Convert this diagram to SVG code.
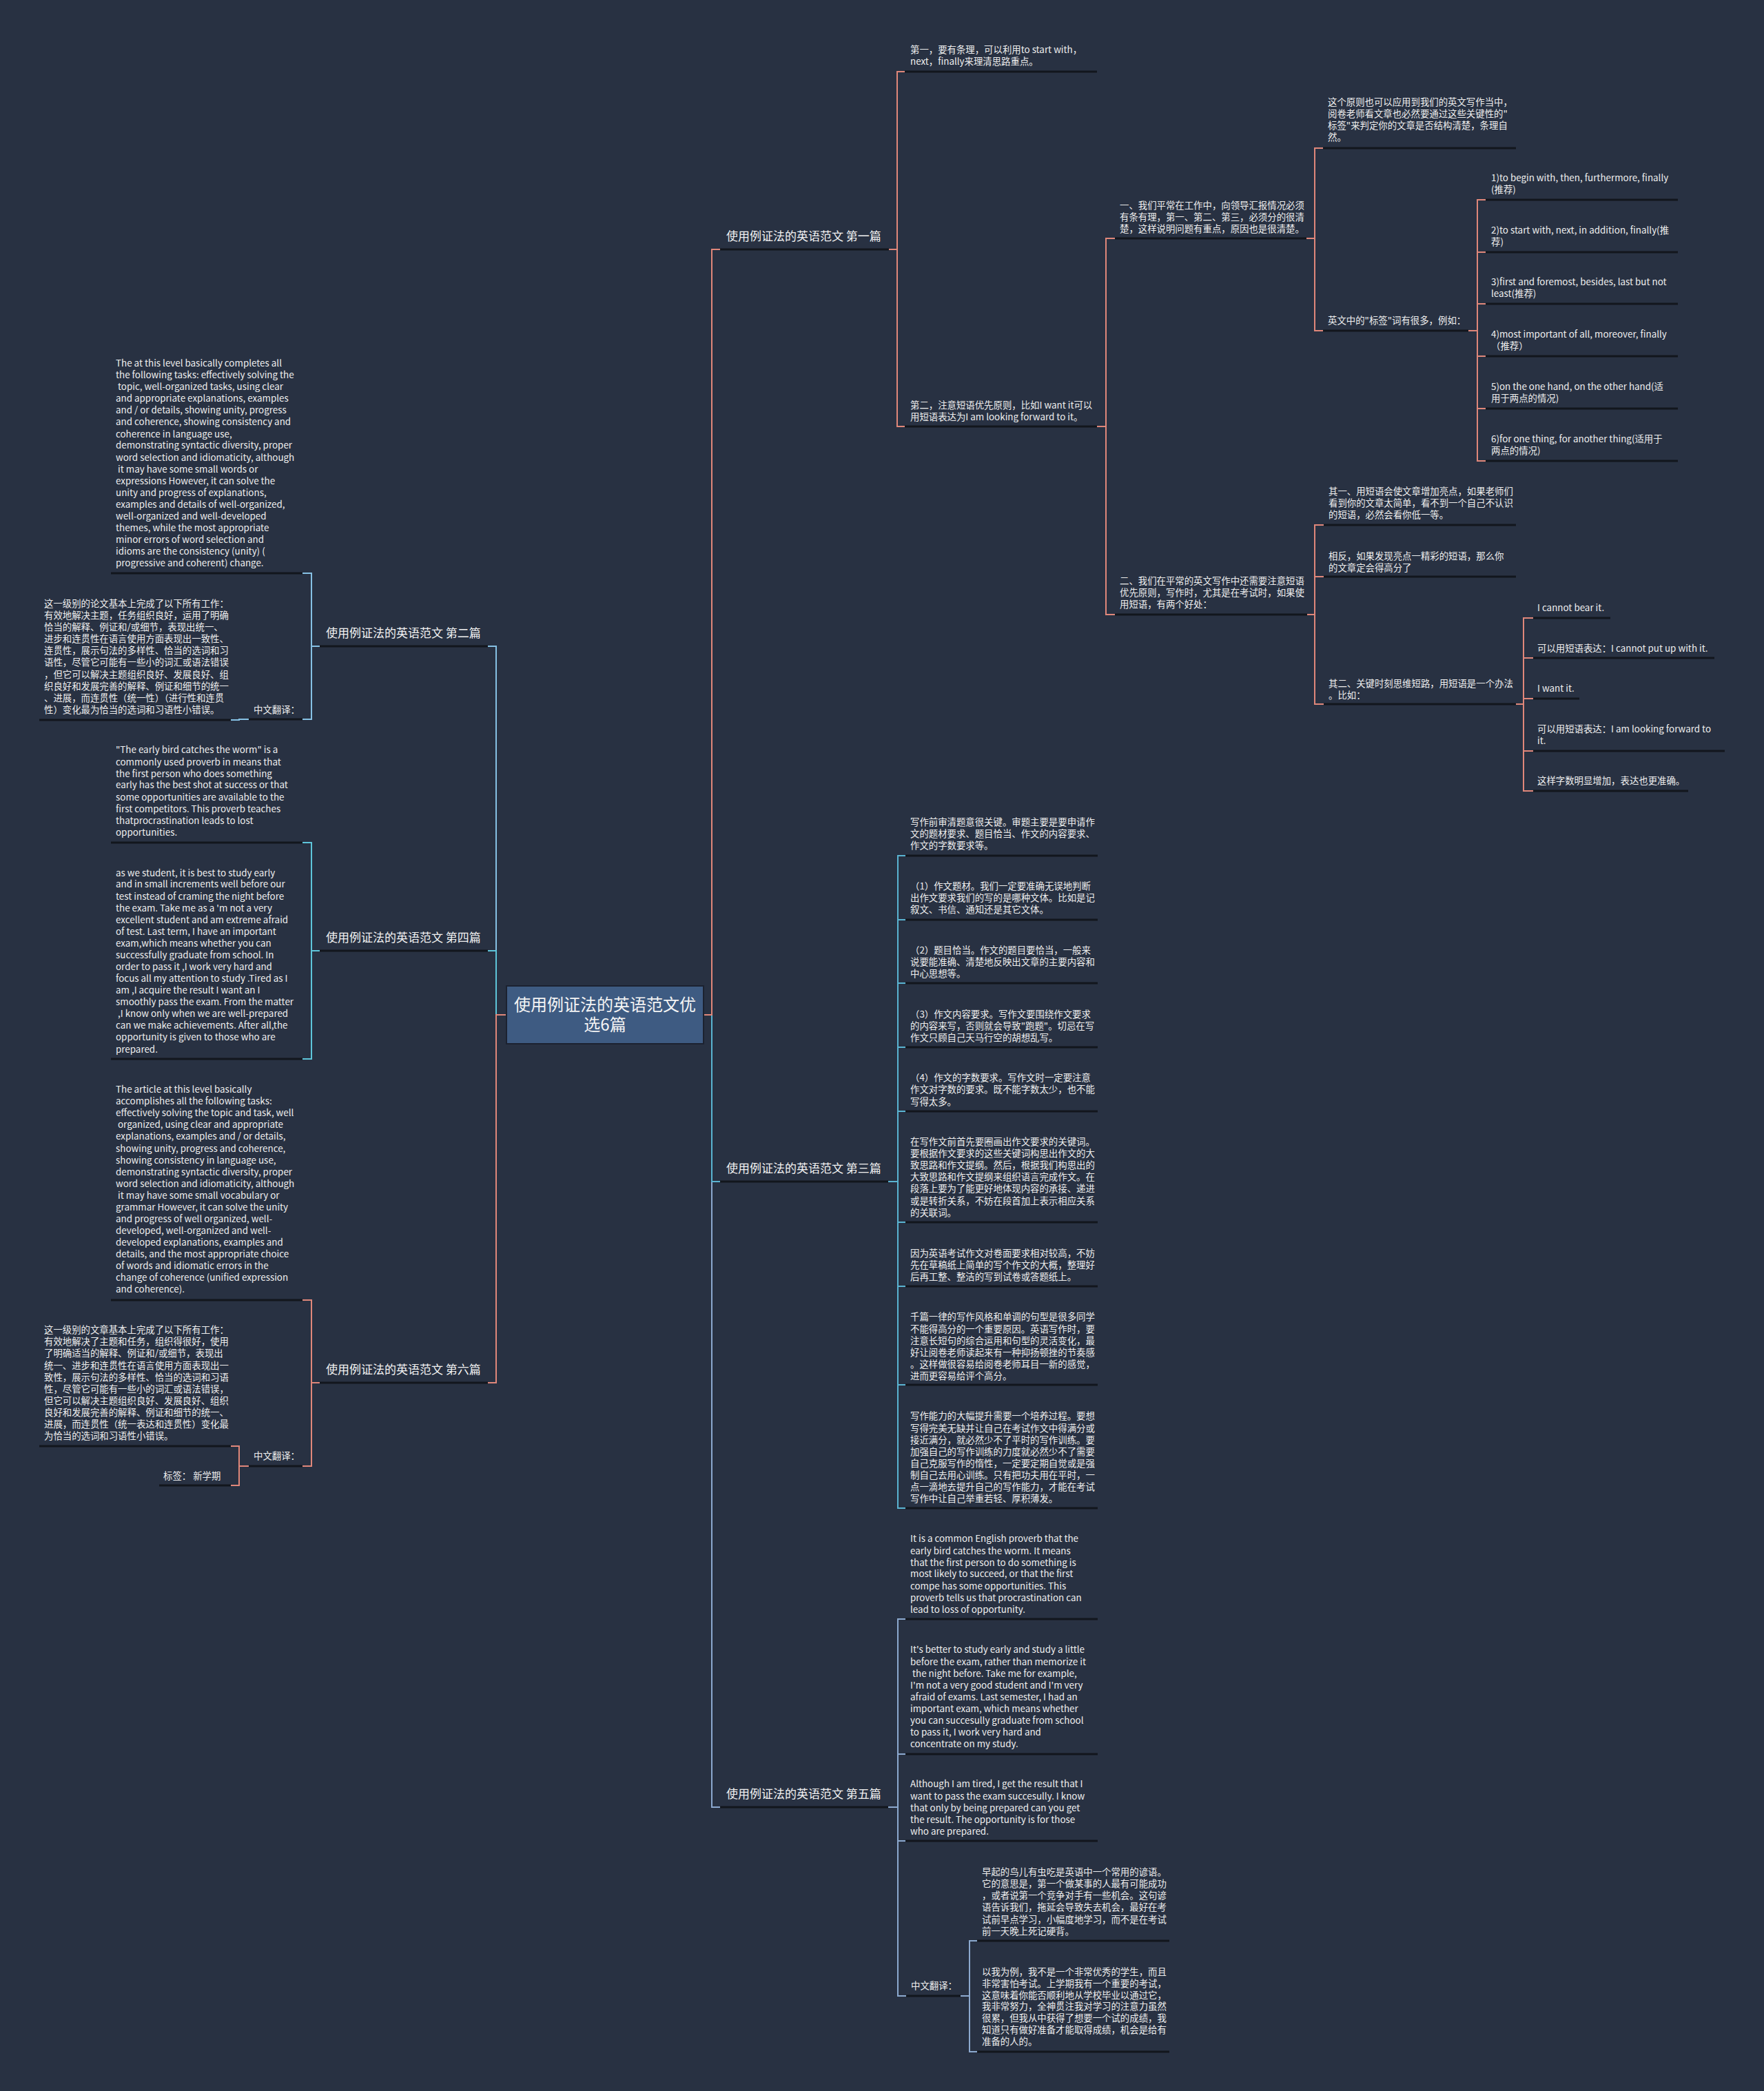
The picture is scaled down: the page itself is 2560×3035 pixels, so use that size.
<svg xmlns="http://www.w3.org/2000/svg" width="2560" height="3035" viewBox="0 0 2560 3035">
<style>
.t{font-family:"Noto Sans CJK SC","Noto Sans",sans-serif;font-size:13.4px;fill:#eeeeee}
.h{font-family:"Noto Sans CJK SC","Noto Sans",sans-serif;font-size:17px;fill:#f2f2f2}
.ctr{font-family:"Noto Sans CJK SC","Noto Sans",sans-serif;font-size:24px;fill:#f4f4f4;text-anchor:middle}
.ul{stroke:#12161d;stroke-width:3;fill:none}
.cn{fill:none;stroke-width:2}
.sa{stroke:#e0877a}
.te{stroke:#5ab4d2}
.gb{stroke:#8ca9cf}
.lb{stroke:#86c1e4}
.cy{stroke:#5ec5da}
</style>
<rect width="2560" height="3035" fill="#283142"/>

<g id="connectors">
  <path class="cn gb" d="M1021,1473 H1033 V2623 H1045"/>
  <path class="cn te" d="M1021,1473 H1033 V1715 H1045"/>
  <path class="cn sa" d="M1021,1473 H1033 V362 H1045"/>
  <path class="cn lb" d="M735,1473 H720 V938 H708"/>
  <path class="cn cy" d="M735,1473 H720 V1380 H708"/>
  <path class="cn sa" d="M735,1473 H720 V2007 H708"/>

  <path class="cn sa" d="M1290,362 H1302 V104 H1313 M1302,362 V619 H1313"/>
  <path class="cn sa" d="M1592,619 H1605 V346 H1618 M1605,619 V892 H1618"/>
  <path class="cn sa" d="M1896,346 H1908 V215 H1920 M1908,346 V480 H1920"/>
  <path class="cn sa" d="M2131,480 H2144 V290 H2156 M2144,480 V669 H2156 M2144,366 H2156 M2144,441 H2156 M2144,517 H2156 M2144,593 H2156"/>
  <path class="cn sa" d="M1897,892 H1908 V762 H1921 M1908,892 V1022 H1921 M1908,837 H1921"/>
  <path class="cn sa" d="M2200,1022 H2211 V897 H2225 M2211,1022 V1148 H2225 M2211,955 H2225 M2211,1014 H2225 M2211,1090 H2225"/>

  <path class="cn te" d="M1289,1715 H1303 V1242 H1314 M1303,1715 V2189 H1314 M1303,1335 H1314 M1303,1427 H1314 M1303,1520 H1314 M1303,1613 H1314 M1303,1774 H1314 M1303,1867 H1314 M1303,2010 H1314"/>

  <path class="cn gb" d="M1289,2623 H1303 V2350 H1314 M1303,2623 V2897 H1315 M1303,2546 H1314 M1303,2672 H1314"/>
  <path class="cn gb" d="M1394,2897 H1407 V2817 H1418 M1407,2897 V2978 H1418"/>

  <path class="cn lb" d="M464,938 H452 V832 H439 M452,938 V1044 H439"/>
  <path class="cn lb" d="M361,1044 H347 V1045 H335"/>
  <path class="cn cy" d="M464,1380 H452 V1223 H439 M452,1380 V1537 H439"/>
  <path class="cn sa" d="M464,2007 H452 V1887 H439 M452,2007 V2128 H439"/>
  <path class="cn sa" d="M361,2128 H347 V2099 H335 M347,2128 V2156 H335"/>
</g>

<g id="center">
  <rect x="735" y="1431" width="286" height="84" fill="#3e5b82" stroke="#1c2230" stroke-width="2"/>
  <text class="ctr"><tspan x="878" y="1467">使用例证法的英语范文优</tspan><tspan x="878" y="1496">选6篇</tspan></text>
</g>

<!-- Right: 第一篇 -->
<g id="b1">
  <text class="h" x="1054" y="349">使用例证法的英语范文 第一篇</text>
  <line class="ul" x1="1045" y1="362" x2="1290" y2="362"/>
</g>
<g id="b1-n1">
  <text class="t"><tspan x="1321" y="77">第一，要有条理，可以利用to start with，</tspan><tspan x="1321" y="94">next，finally来理清思路重点。</tspan></text>
  <line class="ul" x1="1313" y1="104" x2="1592" y2="104"/>
</g>
<g id="b1-n2">
  <text class="t"><tspan x="1321" y="593">第二，注意短语优先原则，比如I want it可以</tspan><tspan x="1321" y="610">用短语表达为I am looking forward to it。</tspan></text>
  <line class="ul" x1="1313" y1="619" x2="1592" y2="619"/>
</g>
<g id="b1-a">
  <text class="t"><tspan x="1625" y="303">一、我们平常在工作中，向领导汇报情况必须</tspan><tspan x="1625" y="320">有条有理，第一、第二、第三，必须分的很清</tspan><tspan x="1625" y="337">楚，这样说明问题有重点，原因也是很清楚。</tspan></text>
  <line class="ul" x1="1618" y1="346" x2="1896" y2="346"/>
</g>
<g id="b1-b">
  <text class="t"><tspan x="1625" y="848">二、我们在平常的英文写作中还需要注意短语</tspan><tspan x="1625" y="865">优先原则，写作时，尤其是在考试时，如果使</tspan><tspan x="1625" y="882">用短语，有两个好处：</tspan></text>
  <line class="ul" x1="1618" y1="892" x2="1897" y2="892"/>
</g>
<g id="b1-a1">
  <text class="t"><tspan x="1927" y="153">这个原则也可以应用到我们的英文写作当中，</tspan><tspan x="1927" y="170">阅卷老师看文章也必然要通过这些关键性的"</tspan><tspan x="1927" y="187">标签"来判定你的文章是否结构清楚，条理自</tspan><tspan x="1927" y="204">然。</tspan></text>
  <line class="ul" x1="1920" y1="215" x2="2200" y2="215"/>
</g>
<g id="b1-a2">
  <text class="t" x="1927" y="470">英文中的"标签"词有很多，例如：</text>
  <line class="ul" x1="1920" y1="480" x2="2131" y2="480"/>
</g>
<g id="b1-a2-1">
  <text class="t"><tspan x="2164" y="263">1)to begin with, then, furthermore, finally</tspan><tspan x="2164" y="280">(推荐)</tspan></text>
  <line class="ul" x1="2156" y1="290" x2="2435" y2="290"/>
</g>
<g id="b1-a2-2">
  <text class="t"><tspan x="2164" y="339">2)to start with, next, in addition, finally(推</tspan><tspan x="2164" y="356">荐)</tspan></text>
  <line class="ul" x1="2156" y1="366" x2="2435" y2="366"/>
</g>
<g id="b1-a2-3">
  <text class="t"><tspan x="2164" y="414">3)first and foremost, besides, last but not</tspan><tspan x="2164" y="431">least(推荐)</tspan></text>
  <line class="ul" x1="2156" y1="441" x2="2435" y2="441"/>
</g>
<g id="b1-a2-4">
  <text class="t"><tspan x="2164" y="490">4)most important of all, moreover, finally</tspan><tspan x="2164" y="507">（推荐）</tspan></text>
  <line class="ul" x1="2156" y1="517" x2="2435" y2="517"/>
</g>
<g id="b1-a2-5">
  <text class="t"><tspan x="2164" y="566">5)on the one hand, on the other hand(适</tspan><tspan x="2164" y="583">用于两点的情况)</tspan></text>
  <line class="ul" x1="2156" y1="593" x2="2435" y2="593"/>
</g>
<g id="b1-a2-6">
  <text class="t"><tspan x="2164" y="642">6)for one thing, for another thing(适用于</tspan><tspan x="2164" y="659">两点的情况)</tspan></text>
  <line class="ul" x1="2156" y1="669" x2="2435" y2="669"/>
</g>
<g id="b1-b1">
  <text class="t"><tspan x="1928" y="718">其一、用短语会使文章增加亮点，如果老师们</tspan><tspan x="1928" y="735">看到你的文章太简单，看不到一个自己不认识</tspan><tspan x="1928" y="752">的短语，必然会看你低一等。</tspan></text>
  <line class="ul" x1="1921" y1="762" x2="2200" y2="762"/>
</g>
<g id="b1-b2">
  <text class="t"><tspan x="1928" y="812">相反，如果发现亮点一精彩的短语，那么你</tspan><tspan x="1928" y="829">的文章定会得高分了</tspan></text>
  <line class="ul" x1="1921" y1="837" x2="2200" y2="837"/>
</g>
<g id="b1-b3">
  <text class="t"><tspan x="1928" y="997">其二、关键时刻思维短路，用短语是一个办法</tspan><tspan x="1928" y="1014">。比如：</tspan></text>
  <line class="ul" x1="1921" y1="1022" x2="2200" y2="1022"/>
</g>
<g id="b1-b3-1">
  <text class="t" x="2231" y="887">I cannot bear it.</text>
  <line class="ul" x1="2225" y1="897" x2="2337" y2="897"/>
</g>
<g id="b1-b3-2">
  <text class="t" x="2231" y="946">可以用短语表达：I cannot put up with it.</text>
  <line class="ul" x1="2225" y1="955" x2="2488" y2="955"/>
</g>
<g id="b1-b3-3">
  <text class="t" x="2231" y="1004">I want it.</text>
  <line class="ul" x1="2225" y1="1014" x2="2292" y2="1014"/>
</g>
<g id="b1-b3-4">
  <text class="t"><tspan x="2231" y="1063">可以用短语表达：I am looking forward to</tspan><tspan x="2231" y="1080">it.</tspan></text>
  <line class="ul" x1="2225" y1="1090" x2="2503" y2="1090"/>
</g>
<g id="b1-b3-5">
  <text class="t" x="2231" y="1138">这样字数明显增加，表达也更准确。</text>
  <line class="ul" x1="2225" y1="1148" x2="2450" y2="1148"/>
</g>

<!-- Right: 第三篇 -->
<g id="b3">
  <text class="h" x="1054" y="1702">使用例证法的英语范文 第三篇</text>
  <line class="ul" x1="1045" y1="1715" x2="1289" y2="1715"/>
</g>
<g id="b3-1">
  <text class="t"><tspan x="1321" y="1198">写作前审清题意很关键。审题主要是要申请作</tspan><tspan x="1321" y="1215">文的题材要求、题目恰当、作文的内容要求、</tspan><tspan x="1321" y="1232">作文的字数要求等。</tspan></text>
  <line class="ul" x1="1314" y1="1242" x2="1593" y2="1242"/>
</g>
<g id="b3-2">
  <text class="t"><tspan x="1321" y="1291">（1）作文题材。我们一定要准确无误地判断</tspan><tspan x="1321" y="1308">出作文要求我们的写的是哪种文体。比如是记</tspan><tspan x="1321" y="1325">叙文、书信、通知还是其它文体。</tspan></text>
  <line class="ul" x1="1314" y1="1335" x2="1593" y2="1335"/>
</g>
<g id="b3-3">
  <text class="t"><tspan x="1321" y="1384">（2）题目恰当。作文的题目要恰当，一般来</tspan><tspan x="1321" y="1401">说要能准确、清楚地反映出文章的主要内容和</tspan><tspan x="1321" y="1418">中心思想等。</tspan></text>
  <line class="ul" x1="1314" y1="1427" x2="1593" y2="1427"/>
</g>
<g id="b3-4">
  <text class="t"><tspan x="1321" y="1477">（3）作文内容要求。写作文要围绕作文要求</tspan><tspan x="1321" y="1494">的内容来写，否则就会导致"跑题"。切忌在写</tspan><tspan x="1321" y="1511">作文只顾自己天马行空的胡想乱写。</tspan></text>
  <line class="ul" x1="1314" y1="1520" x2="1593" y2="1520"/>
</g>
<g id="b3-5">
  <text class="t"><tspan x="1321" y="1569">（4）作文的字数要求。写作文时一定要注意</tspan><tspan x="1321" y="1586">作文对字数的要求。既不能字数太少，也不能</tspan><tspan x="1321" y="1604">写得太多。</tspan></text>
  <line class="ul" x1="1314" y1="1613" x2="1593" y2="1613"/>
</g>
<g id="b3-6">
  <text class="t"><tspan x="1321" y="1662">在写作文前首先要圈画出作文要求的关键词。</tspan><tspan x="1321" y="1679">要根据作文要求的这些关键词构思出作文的大</tspan><tspan x="1321" y="1696">致思路和作文提纲。然后，根据我们构思出的</tspan><tspan x="1321" y="1713">大致思路和作文提纲来组织语言完成作文。在</tspan><tspan x="1321" y="1730">段落上要为了能更好地体现内容的承接、递进</tspan><tspan x="1321" y="1748">或是转折关系，不妨在段首加上表示相应关系</tspan><tspan x="1321" y="1765">的关联词。</tspan></text>
  <line class="ul" x1="1314" y1="1774" x2="1593" y2="1774"/>
</g>
<g id="b3-7">
  <text class="t"><tspan x="1321" y="1824">因为英语考试作文对卷面要求相对较高，不妨</tspan><tspan x="1321" y="1841">先在草稿纸上简单的写个作文的大概，整理好</tspan><tspan x="1321" y="1858">后再工整、整洁的写到试卷或答题纸上。</tspan></text>
  <line class="ul" x1="1314" y1="1867" x2="1593" y2="1867"/>
</g>
<g id="b3-8">
  <text class="t"><tspan x="1321" y="1916">千篇一律的写作风格和单调的句型是很多同学</tspan><tspan x="1321" y="1934">不能得高分的一个重要原因。英语写作时，要</tspan><tspan x="1321" y="1951">注意长短句的综合运用和句型的灵活变化，最</tspan><tspan x="1321" y="1968">好让阅卷老师读起来有一种抑扬顿挫的节奏感</tspan><tspan x="1321" y="1985">。这样做很容易给阅卷老师耳目一新的感觉，</tspan><tspan x="1321" y="2002">进而更容易给评个高分。</tspan></text>
  <line class="ul" x1="1314" y1="2010" x2="1593" y2="2010"/>
</g>
<g id="b3-9">
  <text class="t"><tspan x="1321" y="2060">写作能力的大幅提升需要一个培养过程。要想</tspan><tspan x="1321" y="2078">写得完美无缺并让自己在考试作文中得满分或</tspan><tspan x="1321" y="2095">接近满分，就必然少不了平时的写作训练。要</tspan><tspan x="1321" y="2112">加强自己的写作训练的力度就必然少不了需要</tspan><tspan x="1321" y="2129">自己克服写作的惰性，一定要定期自觉或是强</tspan><tspan x="1321" y="2146">制自己去用心训练。只有把功夫用在平时，一</tspan><tspan x="1321" y="2163">点一滴地去提升自己的写作能力，才能在考试</tspan><tspan x="1321" y="2180">写作中让自己举重若轻、厚积薄发。</tspan></text>
  <line class="ul" x1="1314" y1="2189" x2="1593" y2="2189"/>
</g>

<!-- Right: 第五篇 -->
<g id="b5">
  <text class="h" x="1054" y="2610">使用例证法的英语范文 第五篇</text>
  <line class="ul" x1="1045" y1="2623" x2="1289" y2="2623"/>
</g>
<g id="b5-1">
  <text class="t"><tspan x="1321" y="2238">It is a common English proverb that the</tspan><tspan x="1321" y="2256">early bird catches the worm. It means</tspan><tspan x="1321" y="2273">that the first person to do something is</tspan><tspan x="1321" y="2289">most likely to succeed, or that the first</tspan><tspan x="1321" y="2307">compe has some opportunities. This</tspan><tspan x="1321" y="2324">proverb tells us that procrastination can</tspan><tspan x="1321" y="2341">lead to loss of opportunity.</tspan></text>
  <line class="ul" x1="1314" y1="2350" x2="1593" y2="2350"/>
</g>
<g id="b5-2">
  <text class="t"><tspan x="1321" y="2399">It's better to study early and study a little</tspan><tspan x="1321" y="2417">before the exam, rather than memorize it</tspan><tspan x="1321" y="2434"> the night before. Take me for example,</tspan><tspan x="1321" y="2451">I'm not a very good student and I'm very</tspan><tspan x="1321" y="2468">afraid of exams. Last semester, I had an</tspan><tspan x="1321" y="2485">important exam, which means whether</tspan><tspan x="1321" y="2502">you can succesully graduate from school</tspan><tspan x="1321" y="2519">to pass it, I work very hard and</tspan><tspan x="1321" y="2536">concentrate on my study.</tspan></text>
  <line class="ul" x1="1314" y1="2546" x2="1593" y2="2546"/>
</g>
<g id="b5-3">
  <text class="t"><tspan x="1321" y="2594">Although I am tired, I get the result that I</tspan><tspan x="1321" y="2612">want to pass the exam succesully. I know</tspan><tspan x="1321" y="2629">that only by being prepared can you get</tspan><tspan x="1321" y="2646">the result. The opportunity is for those</tspan><tspan x="1321" y="2663">who are prepared.</tspan></text>
  <line class="ul" x1="1314" y1="2672" x2="1593" y2="2672"/>
</g>
<g id="b5-4">
  <text class="t" x="1322" y="2887">中文翻译：</text>
  <line class="ul" x1="1315" y1="2897" x2="1394" y2="2897"/>
</g>
<g id="b5-4-1">
  <text class="t"><tspan x="1425" y="2722">早起的鸟儿有虫吃是英语中一个常用的谚语。</tspan><tspan x="1425" y="2739">它的意思是，第一个做某事的人最有可能成功</tspan><tspan x="1425" y="2756">，或者说第一个竞争对手有一些机会。这句谚</tspan><tspan x="1425" y="2773">语告诉我们，拖延会导致失去机会，最好在考</tspan><tspan x="1425" y="2791">试前早点学习，小幅度地学习，而不是在考试</tspan><tspan x="1425" y="2808">前一天晚上死记硬背。</tspan></text>
  <line class="ul" x1="1418" y1="2817" x2="1697" y2="2817"/>
</g>
<g id="b5-4-2">
  <text class="t"><tspan x="1425" y="2867">以我为例，我不是一个非常优秀的学生，而且</tspan><tspan x="1425" y="2884">非常害怕考试。上学期我有一个重要的考试，</tspan><tspan x="1425" y="2901">这意味着你能否顺利地从学校毕业以通过它，</tspan><tspan x="1425" y="2917">我非常努力，全神贯注我对学习的注意力虽然</tspan><tspan x="1425" y="2934">很累，但我从中获得了想要一个试的成绩，我</tspan><tspan x="1425" y="2951">知道只有做好准备才能取得成绩，机会是给有</tspan><tspan x="1425" y="2968">准备的人的。</tspan></text>
  <line class="ul" x1="1418" y1="2978" x2="1697" y2="2978"/>
</g>

<!-- Left: 第二篇 -->
<g id="b2">
  <text class="h" x="473" y="925">使用例证法的英语范文 第二篇</text>
  <line class="ul" x1="464" y1="938" x2="708" y2="938"/>
</g>
<g id="b2-1">
  <text class="t"><tspan x="168" y="532">The at this level basically completes all</tspan><tspan x="168" y="549">the following tasks: effectively solving the</tspan><tspan x="168" y="566"> topic, well-organized tasks, using clear</tspan><tspan x="168" y="583">and appropriate explanations, examples</tspan><tspan x="168" y="600">and / or details, showing unity, progress</tspan><tspan x="168" y="617">and coherence, showing consistency and</tspan><tspan x="168" y="635">coherence in language use,</tspan><tspan x="168" y="651">demonstrating syntactic diversity, proper</tspan><tspan x="168" y="669">word selection and idiomaticity, although</tspan><tspan x="168" y="686"> it may have some small words or</tspan><tspan x="168" y="703">expressions However, it can solve the</tspan><tspan x="168" y="720">unity and progress of explanations,</tspan><tspan x="168" y="737">examples and details of well-organized,</tspan><tspan x="168" y="754">well-organized and well-developed</tspan><tspan x="168" y="771">themes, while the most appropriate</tspan><tspan x="168" y="788">minor errors of word selection and</tspan><tspan x="168" y="805">idioms are the consistency (unity) (</tspan><tspan x="168" y="822">progressive and coherent) change.</tspan></text>
  <line class="ul" x1="161" y1="832" x2="439" y2="832"/>
</g>
<g id="b2-2">
  <text class="t" x="368" y="1035">中文翻译：</text>
  <line class="ul" x1="361" y1="1044" x2="439" y2="1044"/>
</g>
<g id="b2-2-1">
  <text class="t"><tspan x="64" y="881">这一级别的论文基本上完成了以下所有工作：</tspan><tspan x="64" y="898">有效地解决主题，任务组织良好，运用了明确</tspan><tspan x="64" y="915">恰当的解释、例证和/或细节，表现出统一、</tspan><tspan x="64" y="932">进步和连贯性在语言使用方面表现出一致性、</tspan><tspan x="64" y="949">连贯性，展示句法的多样性、恰当的选词和习</tspan><tspan x="64" y="966">语性，尽管它可能有一些小的词汇或语法错误</tspan><tspan x="64" y="984">，但它可以解决主题组织良好、发展良好、组</tspan><tspan x="64" y="1001">织良好和发展完善的解释、例证和细节的统一</tspan><tspan x="64" y="1018">、进展，而连贯性（统一性）（进行性和连贯</tspan><tspan x="64" y="1035">性）变化最为恰当的选词和习语性小错误。</tspan></text>
  <line class="ul" x1="57" y1="1045" x2="335" y2="1045"/>
</g>

<!-- Left: 第四篇 -->
<g id="b4">
  <text class="h" x="473" y="1367">使用例证法的英语范文 第四篇</text>
  <line class="ul" x1="464" y1="1380" x2="708" y2="1380"/>
</g>
<g id="b4-1">
  <text class="t"><tspan x="168" y="1093">"The early bird catches the worm" is a</tspan><tspan x="168" y="1111">commonly used proverb in  means that</tspan><tspan x="168" y="1128">the first person who does something</tspan><tspan x="168" y="1144">early has the best shot at success or that</tspan><tspan x="168" y="1162">some opportunities are available to the</tspan><tspan x="168" y="1179">first competitors. This proverb teaches</tspan><tspan x="168" y="1196">thatprocrastination leads to lost</tspan><tspan x="168" y="1213">opportunities.</tspan></text>
  <line class="ul" x1="161" y1="1223" x2="439" y2="1223"/>
</g>
<g id="b4-2">
  <text class="t"><tspan x="168" y="1272">as we student, it is best to study early</tspan><tspan x="168" y="1288">and in small increments well before our</tspan><tspan x="168" y="1306">test instead of craming the night before</tspan><tspan x="168" y="1323">the exam. Take me as a 'm not a very</tspan><tspan x="168" y="1340">excellent student and am extreme afraid</tspan><tspan x="168" y="1357">of test. Last term, I have an important</tspan><tspan x="168" y="1374">exam,which means whether you can</tspan><tspan x="168" y="1391">successfully graduate from school. In</tspan><tspan x="168" y="1408">order to pass it ,I work very hard and</tspan><tspan x="168" y="1425">focus all my attention to study .Tired as I</tspan><tspan x="168" y="1442">am ,I acquire the result I want an I</tspan><tspan x="168" y="1459">smoothly pass the exam. From the matter</tspan><tspan x="168" y="1476"> ,I know only when we are well-prepared</tspan><tspan x="168" y="1493">can we make achievements. After all,the</tspan><tspan x="168" y="1510">opportunity is given to those who are</tspan><tspan x="168" y="1528">prepared.</tspan></text>
  <line class="ul" x1="161" y1="1537" x2="439" y2="1537"/>
</g>

<!-- Left: 第六篇 -->
<g id="b6">
  <text class="h" x="473" y="1994">使用例证法的英语范文 第六篇</text>
  <line class="ul" x1="464" y1="2007" x2="708" y2="2007"/>
</g>
<g id="b6-1">
  <text class="t"><tspan x="168" y="1586">The article at this level basically</tspan><tspan x="168" y="1603">accomplishes all the following tasks:</tspan><tspan x="168" y="1620">effectively solving the topic and task, well</tspan><tspan x="168" y="1637"> organized, using clear and appropriate</tspan><tspan x="168" y="1654">explanations, examples and / or details,</tspan><tspan x="168" y="1672">showing unity, progress and coherence,</tspan><tspan x="168" y="1689">showing consistency in language use,</tspan><tspan x="168" y="1706">demonstrating syntactic diversity, proper</tspan><tspan x="168" y="1723">word selection and idiomaticity, although</tspan><tspan x="168" y="1740"> it may have some small vocabulary or</tspan><tspan x="168" y="1757">grammar However, it can solve the unity</tspan><tspan x="168" y="1774">and progress of well organized, well-</tspan><tspan x="168" y="1791">developed, well-organized and well-</tspan><tspan x="168" y="1808">developed explanations, examples and</tspan><tspan x="168" y="1825">details, and the most appropriate choice</tspan><tspan x="168" y="1842">of words and idiomatic errors in the</tspan><tspan x="168" y="1859">change of coherence (unified expression</tspan><tspan x="168" y="1876">and coherence).</tspan></text>
  <line class="ul" x1="161" y1="1887" x2="439" y2="1887"/>
</g>
<g id="b6-2">
  <text class="t" x="368" y="2118">中文翻译：</text>
  <line class="ul" x1="361" y1="2128" x2="439" y2="2128"/>
</g>
<g id="b6-2-1">
  <text class="t"><tspan x="64" y="1935">这一级别的文章基本上完成了以下所有工作：</tspan><tspan x="64" y="1952">有效地解决了主题和任务，组织得很好，使用</tspan><tspan x="64" y="1969">了明确适当的解释、例证和/或细节，表现出</tspan><tspan x="64" y="1987">统一、进步和连贯性在语言使用方面表现出一</tspan><tspan x="64" y="2004">致性，展示句法的多样性、恰当的选词和习语</tspan><tspan x="64" y="2021">性，尽管它可能有一些小的词汇或语法错误，</tspan><tspan x="64" y="2038">但它可以解决主题组织良好、发展良好、组织</tspan><tspan x="64" y="2055">良好和发展完善的解释、例证和细节的统一、</tspan><tspan x="64" y="2072">进展，而连贯性（统一表达和连贯性）变化最</tspan><tspan x="64" y="2089">为恰当的选词和习语性小错误。</tspan></text>
  <line class="ul" x1="57" y1="2099" x2="335" y2="2099"/>
</g>
<g id="b6-2-2">
  <text class="t" x="237" y="2147">标签：  新学期</text>
  <line class="ul" x1="231" y1="2156" x2="335" y2="2156"/>
</g>
</svg>
